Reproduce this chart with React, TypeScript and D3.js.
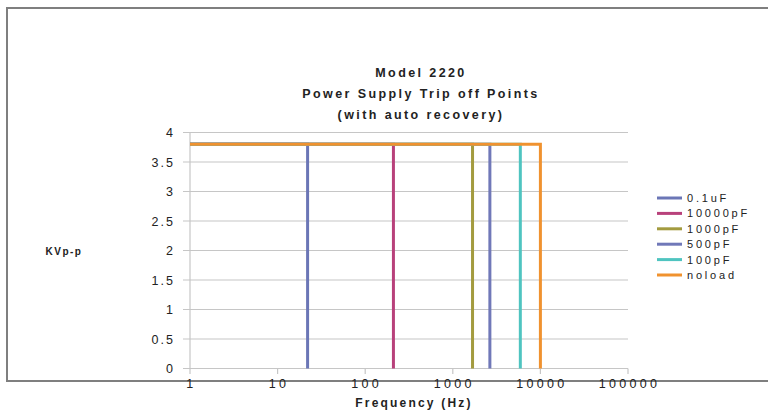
import React from "react";
import * as d3 from "d3";

const seriesNames = ["0.1uF", "10000pF", "1000pF", "500pF", "100pF", "noload"];
const tripFreqs = [22, 210, 1680, 2650, 5900, 10000];
const tripLevel = [3.8, 3.8, 3.8, 3.8, 3.8, 3.8];
const seriesColors = ["#6B76B6", "#B8417B", "#A39B3F", "#7078B8", "#4FC4C0", "#F0922F"];
const xTicks = [1, 10, 100, 1000, 10000, 100000];
const yTicks = [0, 0.5, 1, 1.5, 2, 2.5, 3, 3.5, 4];
const titleLines = ["Model 2220", "Power Supply Trip off Points", "(with auto recovery)"];

export default function App() {
  const W = 768, H = 410;
  const x = d3.scaleLog().domain([1, 100000]).range([190, 628]);
  const y = d3.scaleLinear().domain([0, 4]).range([368.5, 132.5]);
  const line = d3.line<[number, number]>().x(d => x(d[0])).y(d => y(d[1]));
  const font = "'Liberation Sans', Arial, sans-serif";

  return (
    <svg width={W} height={H} style={{ position: "absolute", left: 0, top: 0 }} fontFamily={font}>
      <rect x={0} y={0} width={W} height={H} fill="#fff" />
      <rect x={7} y={8} width={800} height={373} fill="none" stroke="#7f7f7f" strokeWidth={2} />
      {yTicks.map(t => (
        <g key={t}>
          <line x1={183} x2={628} y1={y(t)} y2={y(t)} stroke="#c6c6c6" strokeWidth={1.2} />
          <text x={175} y={y(t) + 4.5} textAnchor="end" fontSize={12.5} letterSpacing={2} fill="#222">{t}</text>
        </g>
      ))}
      <line x1={190} x2={190} y1={132.5} y2={368.5} stroke="#c6c6c6" strokeWidth={1.2} />
      {xTicks.map(t => (
        <g key={t}>
          <line x1={x(t)} x2={x(t)} y1={368.5} y2={374} stroke="#c6c6c6" strokeWidth={1.2} />
          <text x={x(t) + 1.5} y={388} textAnchor="middle" fontSize={12.5} letterSpacing={3.3} fill="#222">{t}</text>
        </g>
      ))}
      {seriesNames.map((n, i) => {
        const pts: [number, number][] = [[1, tripLevel[i]], [tripFreqs[i], tripLevel[i]], [tripFreqs[i], 0]];
        return <path key={n} d={line(pts) || ""} fill="none" stroke={seriesColors[i]} strokeWidth={3} />;
      })}
      {titleLines.map((s, i) => (
        <text key={s} x={421} y={77 + i * 21} textAnchor="middle" fontSize={12.5} fontWeight="bold" letterSpacing={2.4} fill="#222">{s}</text>
      ))}
      <text x={64} y={255} textAnchor="middle" fontSize={10} fontWeight="bold" letterSpacing={1.5} fill="#222">KVp-p</text>
      <text x={414} y={407} textAnchor="middle" fontSize={12} fontWeight="bold" letterSpacing={2.2} fill="#222">Frequency (Hz)</text>
      {seriesNames.map((n, i) => {
        const ly = 198 + i * 15.4;
        return (
          <g key={n}>
            <line x1={657} x2={682} y1={ly} y2={ly} stroke={seriesColors[i]} strokeWidth={3} />
            <text x={687} y={ly + 4} fontSize={11} letterSpacing={2.8} fill="#222">{n}</text>
          </g>
        );
      })}
    </svg>
  );
}
